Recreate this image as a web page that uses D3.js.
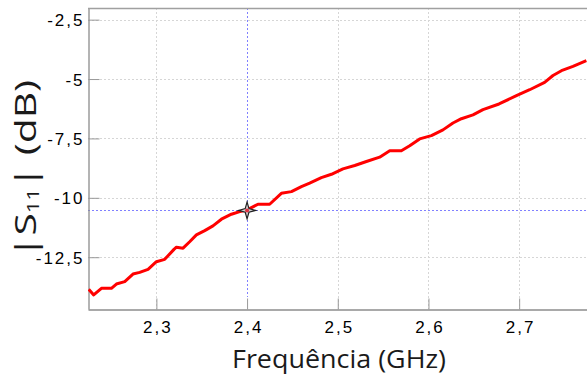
<!DOCTYPE html>
<html>
<head>
<meta charset="utf-8">
<script src="https://cdn.jsdelivr.net/npm/d3@7"></script>
<style>
  html, body { margin: 0; padding: 0; background: #fff; }
  svg { display: block; }
</style>
</head>
<body>
<div id="chart"></div>
<script>
  // frequency (GHz) of the measured points
  var freq = [2.2254, 2.2309, 2.2394, 2.2504, 2.2559, 2.2651, 2.2742, 2.2816, 2.2908, 2.3000,
    2.3092, 2.3194, 2.3221, 2.3294, 2.3367, 2.3441, 2.3533, 2.3624, 2.3717, 2.3827,
    2.3919, 2.4000, 2.4120, 2.4249, 2.4378, 2.4489, 2.4599, 2.4690, 2.4819, 2.4930,
    2.5057, 2.5187, 2.5316, 2.5462, 2.5573, 2.5701, 2.5793, 2.5903, 2.6032, 2.6160,
    2.6270, 2.6363, 2.6491, 2.6601, 2.6778, 2.6970, 2.7116, 2.7281, 2.7373, 2.7466,
    2.7593, 2.7741];
  // |S11| in dB
  var s11 = [-13.85, -14.09, -13.81, -13.81, -13.63, -13.53, -13.21, -13.14, -13.01, -12.69,
    -12.59, -12.17, -12.08, -12.12, -11.85, -11.56, -11.38, -11.18, -10.90, -10.69,
    -10.58, -10.51, -10.27, -10.27, -9.81, -9.74, -9.53, -9.38, -9.15, -9.01,
    -8.78, -8.64, -8.47, -8.29, -8.02, -8.02, -7.81, -7.52, -7.38, -7.14,
    -6.85, -6.67, -6.51, -6.29, -6.05, -5.70, -5.45, -5.14, -4.85, -4.65,
    -4.47, -4.23];

  var xTicks = [2.3, 2.4, 2.5, 2.6, 2.7];
  var yTicks = [-2.5, -5, -7.5, -10, -12.5];
  var marker = [2.4, -10.53];

  var width = 587, height = 377;
  var margin = { top: 8, right: 0, bottom: 68, left: 88 };

  var svg = d3.select('#chart').append('svg')
    .attr('width', width)
    .attr('height', height);

  var x = d3.scaleLinear().domain([2.2246, 2.7748]).range([margin.left, width - margin.right]);
  var y = d3.scaleLinear().domain([-14.68, -2.01]).range([height - margin.bottom, margin.top]);

  var comma = function(d) { return String(d).replace('.', ','); };

  svg.append('clipPath').attr('id', 'plot')
    .append('rect')
    .attr('x', margin.left).attr('y', margin.top)
    .attr('width', width - margin.left - margin.right)
    .attr('height', height - margin.top - margin.bottom);

  // grid
  var grid = svg.append('g').attr('class', 'grid');
  grid.selectAll('line.gx')
    .data(xTicks.filter(function(d) { return d !== marker[0]; }))
    .enter().append('line')
    .attr('class', 'gx')
    .attr('x1', function(d) { return Math.round(x(d)) + 0.5; })
    .attr('x2', function(d) { return Math.round(x(d)) + 0.5; })
    .attr('y1', margin.top)
    .attr('y2', height - margin.bottom)
    .attr('stroke', '#d6d6d6')
    .attr('stroke-dasharray', '2,2');
  grid.selectAll('line.gy')
    .data(yTicks)
    .enter().append('line')
    .attr('class', 'gy')
    .attr('y1', function(d) { return Math.round(y(d)) + 0.5; })
    .attr('y2', function(d) { return Math.round(y(d)) + 0.5; })
    .attr('x1', margin.left)
    .attr('x2', width - margin.right)
    .attr('stroke', '#d6d6d6')
    .attr('stroke-dasharray', '2,2');

  // marker crosshair
  svg.append('line')
    .attr('x1', Math.round(x(marker[0])) + 0.5).attr('x2', Math.round(x(marker[0])) + 0.5)
    .attr('y1', margin.top).attr('y2', height - margin.bottom - 12)
    .attr('stroke', '#8080ff')
    .attr('stroke-dasharray', '2,2');
  svg.append('line')
    .attr('y1', Math.round(y(marker[1])) + 0.5).attr('y2', Math.round(y(marker[1])) + 0.5)
    .attr('x1', margin.left).attr('x2', width - margin.right)
    .attr('stroke', '#8080ff')
    .attr('stroke-dasharray', '2,2');

  // axes
  var xAxis = d3.axisBottom(x).tickValues(xTicks).tickSizeInner(-11).tickSizeOuter(0)
    .tickPadding(11).tickFormat(comma);
  var yAxis = d3.axisLeft(y).tickValues(yTicks).tickSizeInner(-11).tickSizeOuter(0)
    .tickPadding(4).tickFormat(comma);

  var gx = svg.append('g')
    .attr('transform', 'translate(0,' + (height - margin.bottom + 0.5) + ')')
    .call(xAxis);
  var gy = svg.append('g')
    .attr('transform', 'translate(' + (margin.left + 0.5) + ',0)')
    .call(yAxis);

  [gx, gy].forEach(function(g) {
    g.select('.domain').attr('stroke', '#8c8c8c').attr('stroke-width', 1.3);
    g.selectAll('.tick line').attr('stroke', '#999');
    g.selectAll('.tick text')
      .attr('fill', '#000')
      .style('font-family', '"Liberation Sans", Arial, sans-serif')
      .style('font-size', '17px')
      .style('letter-spacing', '2px');
  });
  gy.selectAll('.tick text').attr('dy', '0.36em');
  gx.selectAll('.tick text').attr('dx', 1);

  // top border
  svg.append('line')
    .attr('x1', margin.left).attr('x2', width)
    .attr('y1', margin.top + 0.5).attr('y2', margin.top + 0.5)
    .attr('stroke', '#a0a0a0').attr('stroke-width', 1.3);

  // curve
  var line = d3.line()
    .x(function(d, i) { return x(freq[i]); })
    .y(function(d) { return y(d); });

  svg.append('path')
    .datum(s11)
    .attr('clip-path', 'url(#plot)')
    .attr('fill', 'none')
    .attr('stroke', '#ff0000')
    .attr('stroke-width', 3)
    .attr('stroke-linejoin', 'round')
    .attr('d', line);

  // marker star
  var star = {
    draw: function(ctx, size) {
      var r = Math.sqrt(size), s = r * 0.22;
      ctx.moveTo(0, -r);
      ctx.lineTo(s, -s);
      ctx.lineTo(r, 0);
      ctx.lineTo(s, s);
      ctx.lineTo(0, r);
      ctx.lineTo(-s, s);
      ctx.lineTo(-r, 0);
      ctx.lineTo(-s, -s);
      ctx.closePath();
    }
  };
  svg.append('path')
    .attr('transform', 'translate(' + x(marker[0]) + ',' + y(marker[1]) + ')')
    .attr('d', d3.symbol().type(star).size(72)())
    .attr('fill', '#d0d0d0')
    .attr('stroke', '#222')
    .attr('stroke-width', 1.2);
  svg.append('circle')
    .attr('cx', x(marker[0])).attr('cy', y(marker[1]))
    .attr('r', 2)
    .attr('fill', '#e03040');

  // axis titles
  svg.append('text')
    .attr('x', 339)
    .attr('y', 368)
    .attr('text-anchor', 'middle')
    .attr('fill', '#1a1a1a')
    .attr('textLength', 214)
    .attr('lengthAdjust', 'spacingAndGlyphs')
    .style('font-family', '"Open Sans", "Noto Sans", sans-serif')
    .style('font-size', '26px')
    .text('Frequência (GHz)');

  var yt = svg.append('text')
    .attr('transform', 'translate(36,169) rotate(-90)')
    .attr('text-anchor', 'middle')
    .attr('fill', '#1a1a1a')
    .attr('textLength', 178)
    .attr('lengthAdjust', 'spacingAndGlyphs')
    .style('font-family', '"Open Sans", "Noto Sans", sans-serif')
    .style('font-size', '30px');
  yt.append('tspan').text('|S');
  yt.append('tspan').attr('dy', 3).style('font-size', '16px').text('11');
  yt.append('tspan').attr('dy', -3).text('| (dB)');
</script>
</body>
</html>
